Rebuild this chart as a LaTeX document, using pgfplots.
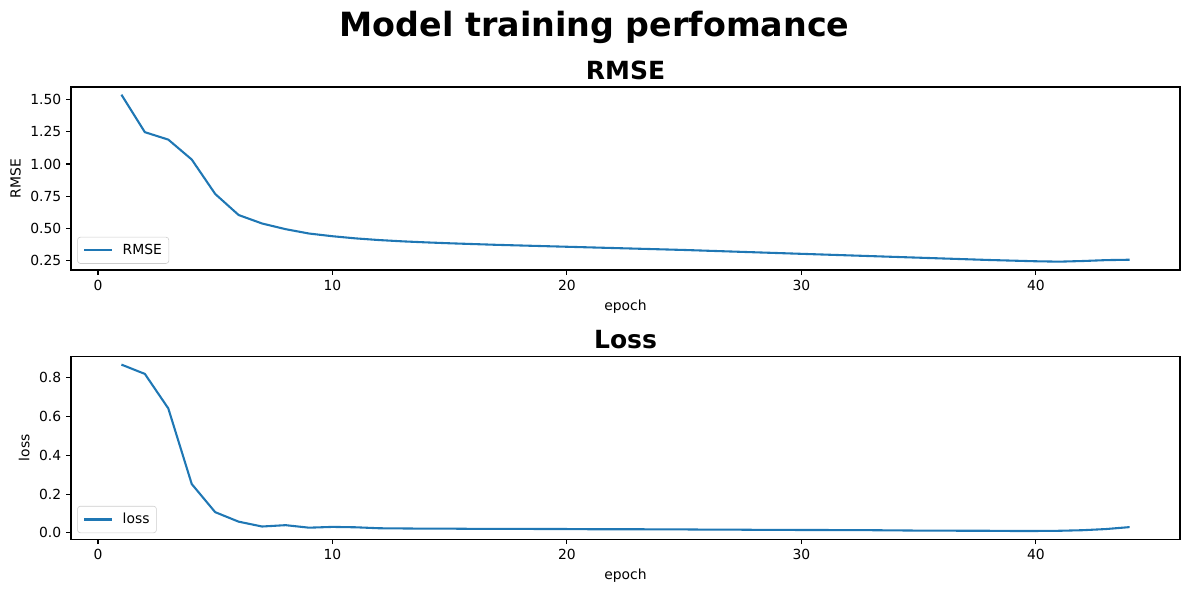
\documentclass[border=0pt]{standalone}
\usepackage{fontspec}
\setmainfont{DejaVu Sans}
\usepackage{pgfplots}
\pgfplotsset{compat=1.18}
\definecolor{tabblue}{HTML}{1F77B4}
\begin{document}
\begin{tikzpicture}
\path[use as bounding box] (0,0) rectangle (856.08pt,-426.24pt);
\pgfplotsset{
  every axis/.append style={
    scale only axis, width=798.5pt, height=131.8pt,
    xmin=-1.15, xmax=46.15,
    xtick={0,10,20,30,40},
    axis line style={line width=0.8pt},
    tick style={line width=0.8pt, black},
    tick align=outside, major tick length=3.5pt,
    xtick pos=bottom, ytick pos=left,
    tick label style={font=\fontsize{10}{12}\selectfont},
    label style={font=\fontsize{10}{12}\selectfont},
    title style={font=\fontsize{18}{21}\selectfont\bfseries, at={(0.5,1)}, anchor=south, yshift=-4.5pt},
    /pgf/number format/assume math mode=true,
    legend style={at={(0,0)}, anchor=south west, xshift=4.5pt, yshift=4.5pt,
      draw=black!20, rounded corners=2pt, font=\fontsize{10}{12}\selectfont,
      inner xsep=3pt, inner ysep=3pt},
    legend image code/.code={\draw[#1] (0pt,0pt) -- (20pt,0pt); \path (-1pt,0pt) (25pt,0pt);},
    legend cell align=left,
    xlabel={epoch},
  }
}
\node[font=\fontsize{24}{28}\selectfont\bfseries] at (428.04pt,-20pt) {Model training perfomance};
\begin{axis}[at={(51.12pt,-194.4pt)}, anchor=south west,
  ymin=0.175, ymax=1.60,
  ytick={0.25,0.5,0.75,1.0,1.25,1.5},
  yticklabel style={/pgf/number format/.cd, fixed, fixed zerofill, precision=2},
  ylabel={RMSE}, title={RMSE}]
\addplot[tabblue, line width=1.5pt, mark=none] coordinates {
(1,1.540)(2,1.248)(3,1.190)(4,1.035)(5,0.767)(6,0.603)(7,0.537)(8,0.493)(9,0.459)(10,0.438)
(11,0.421)(12,0.408)(13,0.398)(14,0.390)(15,0.383)(16,0.377)(17,0.371)(18,0.366)(19,0.361)(20,0.356)
(21,0.351)(22,0.346)(23,0.341)(24,0.336)(25,0.331)(26,0.325)(27,0.319)(28,0.313)(29,0.307)(30,0.301)
(31,0.295)(32,0.289)(33,0.283)(34,0.277)(35,0.271)(36,0.265)(37,0.259)(38,0.253)(39,0.248)(40,0.243)
(41,0.240)(42,0.245)(43,0.252)(44,0.255)};
\addlegendentry{RMSE}
\end{axis}
\begin{axis}[at={(51.12pt,-388.3pt)}, anchor=south west,
  ymin=-0.033, ymax=0.911,
  ytick={0,0.2,0.4,0.6,0.8},
  yticklabel style={/pgf/number format/.cd, fixed, fixed zerofill, precision=1},
  ylabel={loss}, title={Loss}]
\addplot[tabblue, line width=1.5pt, mark=none] coordinates {
(1,0.868)(2,0.820)(3,0.642)(4,0.252)(5,0.107)(6,0.058)(7,0.033)(8,0.040)(9,0.027)(10,0.031)
(11,0.029)(12,0.024)(13,0.023)(14,0.022)(15,0.022)(16,0.021)(17,0.021)(18,0.021)(19,0.020)(20,0.020)
(21,0.019)(22,0.019)(23,0.019)(24,0.018)(25,0.018)(26,0.017)(27,0.017)(28,0.016)(29,0.016)(30,0.015)
(31,0.015)(32,0.014)(33,0.014)(34,0.013)(35,0.012)(36,0.012)(37,0.011)(38,0.011)(39,0.010)(40,0.010)
(41,0.011)(42,0.014)(43,0.020)(44,0.030)};
\addlegendentry{loss}
\end{axis}
\end{tikzpicture}
\end{document}
